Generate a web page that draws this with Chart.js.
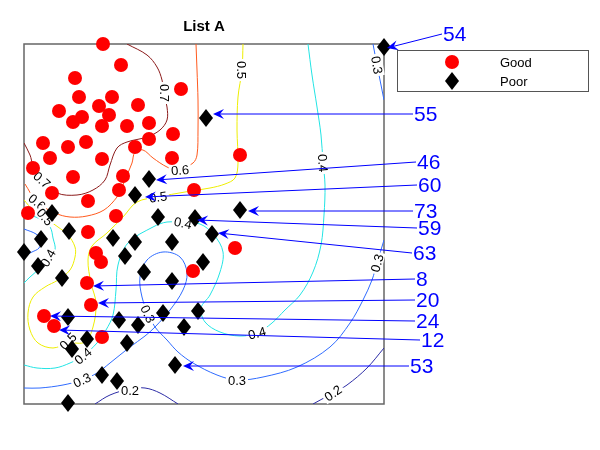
<!DOCTYPE html>
<html>
<head>
<meta charset="utf-8">
<script src="https://cdn.jsdelivr.net/npm/chart.js@4.4.1/dist/chart.umd.min.js"></script>
<style>
body { margin: 0; background: #fff; }
canvas { display: block; }
</style>
</head>
<body>
<canvas id="LISTA" width="600" height="450"></canvas>
<script>
// plot units: both axes run 0..360
var goodX = [79, 97, 51, 157, 55, 88, 75, 114, 35, 58, 49, 85, 78, 103, 125, 19, 62, 44, 125, 149, 111, 26, 78, 148, 9, 49, 99, 216, 95, 28, 64, 170, 92, 4, 64, 72, 77, 169, 63, 67, 20, 30, 78, 211];
var goodY = [360, 339, 326, 315, 307, 307, 298, 299, 293, 287, 282, 289, 278, 278, 281, 261, 262, 257, 265, 270, 257, 246, 245, 246, 236, 227, 228, 249, 214, 211, 203, 214, 188, 191, 172, 151, 142, 133, 121, 99, 88, 78, 67, 156];

var poorX = [360, 182, 125, 111, 134, 171, 188, 216, 45, 28, 89, 111, 148, 101, 17, 0, 14, 38, 120, 148, 179, 174, 139, 160, 95, 114, 63, 48, 44, 103, 151, 78, 93, 44];
var poorY = [357, 286, 225, 209, 187, 186, 170, 194, 173, 191, 166, 162, 162, 148, 165, 152, 138, 126, 132, 123, 142, 93, 91, 77, 84, 79, 65, 55, 87, 61, 39, 29, 23, 1];

// contour lines (level -> path)
var c07 = [[0,261],[6,249],[9,239],[18,224],[33,211],[53,209],[69,214],[81,224],[86,239],[93,256],[103,262],[123,267],[136,274],[143,284],[143,297],[140,311],[138,324],[133,337],[123,349],[103,360]];
var c06 = [[172,360],[173,334],[174,304],[174,274],[173,249],[169,241],[154,234],[143,237],[129,246],[119,254],[111,252],[108,241],[103,229],[99,219],[93,207],[80,194],[63,188],[46,187],[31,191],[13,202],[1,220]];
var c05 = [[219,360],[218,334],[214,307],[213,274],[214,241],[211,226],[201,220],[186,216],[161,212],[134,207],[113,202],[99,187],[83,171],[68,158],[64,144],[67,121],[72,101],[69,77],[61,62],[44,61],[29,56],[14,61],[6,74],[4,91],[9,107],[21,117],[34,124],[46,134],[51,147],[51,157],[44,169],[34,177],[21,186],[9,194],[0,204]];
var c04a = [[284,360],[288,329],[293,297],[297,269],[299,242],[301,219],[300,189],[297,159],[289,132],[276,109],[261,94],[248,81],[233,71],[216,68],[196,72],[181,82],[177,96],[186,109],[196,132],[199,152],[190,169],[176,180],[159,181],[143,182],[129,177],[104,161],[94,139],[92,114],[89,89],[82,74],[73,61],[59,48],[46,41],[31,36],[13,36],[0,39]];
var c04b = [[0,191],[16,185],[26,177],[29,166],[31,154],[24,146],[16,136],[6,127],[0,121]];
var c03a = [[349,360],[353,339],[356,324],[360,304]];
var c03b = [[360,164],[353,141],[348,124],[339,104],[326,81],[306,57],[273,37],[239,27],[213,24],[193,29],[169,41],[154,52],[143,64],[131,77],[124,91],[118,107],[116,127],[123,144],[139,152],[156,147],[163,131],[159,114],[146,94],[131,77],[121,68],[106,57],[86,41],[73,31],[58,24],[39,19],[16,16],[0,16]];
var c03c = [[0,175],[12,170],[17,164],[15,156],[8,152],[0,148]];
var c02a = [[360,56],[343,36],[323,19],[309,11],[289,0]];
var c02b = [[71,0],[86,9],[106,15],[121,16],[136,11],[154,0]];

var contourLevels = ['0.7', '0.6', '0.5', '0.4', '0.4', '0.3', '0.3', '0.3', '0.2', '0.2'];
var contourPaths = [c07, c06, c05, c04a, c04b, c03a, c03b, c03c, c02a, c02b];

// contour labels
var clabText = ['0.7','0.7','0.6','0.6','0.5','0.5','0.5','0.5','0.4','0.4','0.4','0.4','0.4','0.3','0.3','0.3','0.3','0.3','0.2','0.2'];
var clabX = [141, 18, 13, 156, 218, 134, 21, 44, 299, 159, 233, 24, 59, 353, 353, 213, 124, 58, 106, 309];
var clabY = [311, 224, 202, 234, 334, 207, 187, 63, 241, 181, 71, 146, 48, 339, 141, 24, 90, 24, 14, 11];
var clabRot = [90, 42, 40, -5, 90, -8, 50, -45, 85, 12, -15, -60, -40, 80, -75, 0, 65, -25, 0, -35];

// numbered arrows
var arrowIds = ['54', '55', '46', '60', '73', '59', '63', '8', '20', '24', '12', '53'];
var arrowTipX = [363, 189, 132, 121, 224, 173, 194, 69, 74, 26, 35, 159];
var arrowTipY = [356, 290, 224, 207, 193, 184, 171, 118, 101, 88, 74, 38];
var arrowTailX = [418, 389, 392, 393, 389, 393, 388, 391, 391, 391, 396, 385];
var arrowTailY = [370, 290, 242, 219, 193, 176, 151, 125, 104, 83, 64, 38];

var levelColors = { '0.7': '#8b1a1a', '0.6': '#ff5a1e', '0.5': '#eeee00', '0.4': '#22e4e4', '0.3': '#2f6bff', '0.2': '#2c2ca6' };
var FONT = '"Liberation Sans", Arial, Helvetica, sans-serif';

function makeDiamond(w, h) {
    var c = document.createElement('canvas');
    c.width = w; c.height = h;
    var g = c.getContext('2d');
    g.fillStyle = '#000';
    g.beginPath();
    g.moveTo(w / 2, 0); g.lineTo(w, h / 2); g.lineTo(w / 2, h); g.lineTo(0, h / 2);
    g.closePath(); g.fill();
    return c;
}
var diamond = makeDiamond(14, 18);

function pts(xs, ys) {
    var out = [];
    for (var i = 0; i < xs.length; i++) out.push({ x: xs[i], y: ys[i] });
    return out;
}

var datasets = [];
datasets.push({
    label: 'Good', data: pts(goodX, goodY), pointStyle: 'circle', pointRadius: 7,
    pointBackgroundColor: '#ff0000', pointBorderWidth: 0, order: 1, clip: false
});
datasets.push({
    label: 'Poor', data: pts(poorX, poorY), pointStyle: diamond, pointRadius: 9,
    pointBackgroundColor: '#000', pointBorderWidth: 0, order: 0, clip: false
});
for (var i = 0; i < contourPaths.length; i++) {
    var p = contourPaths[i];
    datasets.push({
        label: 'c' + contourLevels[i],
        data: p.map(function (q) { return { x: q[0], y: q[1] }; }),
        showLine: true, fill: false, pointRadius: 0, borderWidth: 1,
        borderColor: levelColors[contourLevels[i]], tension: 0.35, order: 5
    });
}

function drawArrow(ctx, x0, y0, x1, y1) {
    var a = Math.atan2(y1 - y0, x1 - x0);
    var L = 11, W = 5, N = 7;
    ctx.beginPath();
    ctx.moveTo(x0, y0);
    ctx.lineTo(x1 - Math.cos(a) * N, y1 - Math.sin(a) * N);
    ctx.stroke();
    ctx.save();
    ctx.translate(x1, y1);
    ctx.rotate(a);
    ctx.beginPath();
    ctx.moveTo(0, 0); ctx.lineTo(-L, -W); ctx.lineTo(-N, 0); ctx.lineTo(-L, W);
    ctx.closePath(); ctx.fill();
    ctx.restore();
}

var listPlugin = {
    id: 'listA',
    beforeDatasetsDraw: function (chart) {
        var ctx = chart.ctx, a = chart.chartArea;
        ctx.save();
        ctx.strokeStyle = '#666';
        ctx.lineWidth = 1.5;
        ctx.strokeRect(a.left, a.top, a.right - a.left, a.bottom - a.top);
        ctx.restore();
    },
    beforeDatasetDraw: function (chart, args) {
        if (chart.data.datasets[args.index].label !== 'Good') return;
        var ctx = chart.ctx, sx = chart.scales.x, sy = chart.scales.y;
        ctx.save();
        ctx.font = '13px ' + FONT;
        ctx.textAlign = 'center';
        ctx.textBaseline = 'middle';
        for (var i = 0; i < clabText.length; i++) {
            var x = sx.getPixelForValue(clabX[i]), y = sy.getPixelForValue(clabY[i]);
            var w = ctx.measureText(clabText[i]).width;
            ctx.save();
            ctx.translate(x, y);
            ctx.rotate(clabRot[i] * Math.PI / 180);
            ctx.fillStyle = '#fff';
            ctx.fillRect(-w / 2 - 2, -6, w + 4, 12);
            ctx.fillStyle = '#000';
            ctx.fillText(clabText[i], 0, 1);
            ctx.restore();
        }
        ctx.restore();
    },
    afterDraw: function (chart) {
        var ctx = chart.ctx, a = chart.chartArea, sx = chart.scales.x, sy = chart.scales.y;
        ctx.save();
        // title
        ctx.fillStyle = '#000';
        ctx.font = 'bold 15px ' + FONT;
        ctx.textAlign = 'center';
        ctx.textBaseline = 'middle';
        ctx.fillText('List A', (a.left + a.right) / 2, 27);

        // legend
        var lx = a.right + 13, ly = a.top + 6;
        ctx.fillStyle = '#fff';
        ctx.fillRect(lx, ly, 191, 41);
        ctx.strokeStyle = '#555';
        ctx.lineWidth = 1;
        ctx.strokeRect(lx + 0.5, ly + 0.5, 191, 41);
        ctx.fillStyle = '#ff0000';
        ctx.beginPath();
        ctx.arc(lx + 55, ly + 12, 7, 0, Math.PI * 2);
        ctx.fill();
        ctx.drawImage(diamond, lx + 55 - 7, ly + 31 - 9);
        ctx.fillStyle = '#000';
        ctx.font = '13px ' + FONT;
        ctx.textAlign = 'left';
        ctx.fillText('Good', lx + 103, ly + 13);
        ctx.fillText('Poor', lx + 103, ly + 32);

        // arrows with ids
        ctx.strokeStyle = '#0000ff';
        ctx.fillStyle = '#0000ff';
        ctx.lineWidth = 1;
        ctx.font = '21px ' + FONT;
        ctx.textAlign = 'left';
        ctx.textBaseline = 'middle';
        for (var i = 0; i < arrowIds.length; i++) {
            var x0 = sx.getPixelForValue(arrowTailX[i]), y0 = sy.getPixelForValue(arrowTailY[i]);
            var x1 = sx.getPixelForValue(arrowTipX[i]), y1 = sy.getPixelForValue(arrowTipY[i]);
            drawArrow(ctx, x0, y0, x1, y1);
            ctx.fillText(arrowIds[i], x0 + 1, y0 + 1);
        }
        ctx.restore();
    }
};

var ctx = document.getElementById('LISTA').getContext('2d');
var myChart = new Chart(ctx, {
    type: 'scatter',
    data: { datasets: datasets },
    options: {
        responsive: false,
        animation: false,
        devicePixelRatio: 1,
        events: [],
        layout: { padding: { left: 24, top: 44, right: 216, bottom: 46 } },
        scales: {
            x: { type: 'linear', min: 0, max: 360, display: false },
            y: { type: 'linear', min: 0, max: 360, display: false }
        },
        plugins: {
            legend: { display: false },
            tooltip: { enabled: false },
            title: { display: false }
        }
    },
    plugins: [listPlugin]
});
</script>
</body>
</html>
